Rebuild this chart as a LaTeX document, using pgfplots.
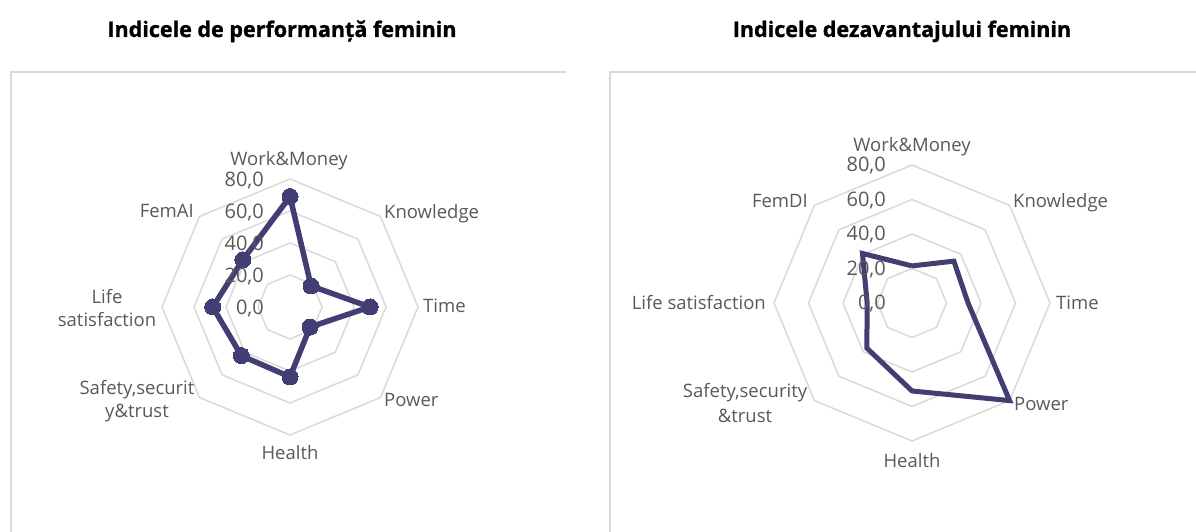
\documentclass[border=0pt]{standalone}
\usepackage{fontspec}
\setmainfont{Open Sans}
\newfontfamily\titlefont[BoldFeatures={FakeBold=1.2}]{Open Sans}
\usepackage{pgfplots}
\pgfplotsset{compat=1.18}
\definecolor{navy}{RGB}{64,62,114}
\definecolor{ringgray}{RGB}{217,217,217}
\definecolor{labgray}{RGB}{89,89,89}
\definecolor{framegray}{RGB}{217,217,217}
\newcommand{\catfont}{\fontsize{18.5}{22}\selectfont}
\newcommand{\tickfont}{\fontsize{20}{24}\selectfont}
\newcommand{\ttlfont}{\titlefont\bfseries\fontsize{21.5}{26}\selectfont}
\begin{document}
\begin{tikzpicture}
\path[use as bounding box] (0pt,0pt) rectangle (1196pt,532pt);

% ---------- left radar ----------
\begin{axis}[at={(290pt,225pt)}, anchor=center, hide axis, scale only axis,
  width=256pt, height=256pt, xmin=-80, xmax=80, ymin=-80, ymax=80, clip=false]
\foreach \r in {20,40,60,80}{
  \edef\tmp{\noexpand\addplot[ringgray, line width=1.5pt, data cs=polar, line join=miter] coordinates {(90,\r) (45,\r) (0,\r) (-45,\r) (-90,\r) (-135,\r) (180,\r) (135,\r) (90,\r)};}
  \tmp
}
\addplot[navy, line width=5.5pt, line join=round, data cs=polar, mark=*, mark size=8pt, mark options={fill=navy, draw=navy, line width=0pt}]
  coordinates {(90,69) (45,18.6) (0,50) (-45,17.7) (-90,43.7) (-135,43) (180,48.3) (135,41.7) (90,69)};
\end{axis}

% ---------- right radar ----------
\begin{axis}[at={(912pt,229pt)}, anchor=center, hide axis, scale only axis,
  width=276pt, height=276pt, xmin=-80, xmax=80, ymin=-80, ymax=80, clip=false]
\foreach \r in {20,40,60,80}{
  \edef\tmp{\noexpand\addplot[ringgray, line width=1.5pt, data cs=polar, line join=miter] coordinates {(90,\r) (45,\r) (0,\r) (-45,\r) (-90,\r) (-135,\r) (180,\r) (135,\r) (90,\r)};}
  \tmp
}
\addplot[navy, line width=5pt, line join=miter, data cs=polar, mark=none]
  coordinates {(90,21.5) (45,34.3) (0,32.5) (-45,80) (-90,51) (-135,37) (180,26) (135,40.6) (90,21.5)};
\end{axis}

\begin{scope}[x=1pt,y=1pt]
% frames
\draw[framegray, line width=2pt] (10.5,0) -- (10.5,459.5) -- (565.5,459.5);
\draw[framegray, line width=2pt] (610,0) -- (610,459.5) -- (1196,459.5);
% titles
\node[anchor=base, text=black] at (282,495) {\ttlfont Indicele de performanță feminin};
\node[anchor=base, text=black] at (902,495) {\ttlfont Indicele dezavantajului feminin};

% tick labels left
\foreach \yy/\t in {180/80,212/60,244/40,276/20,307.5/0}{
  \node[anchor=base east, text=labgray, inner sep=0pt] at (264,{532-\yy-7}) {\tickfont \t,0};
}
% tick labels right
\foreach \yy/\t in {165/80,199.5/60,234/40,268.5/20,303/0}{
  \node[anchor=base east, text=labgray, inner sep=0pt] at (886,{532-\yy-7}) {\tickfont \t,0};
}

% category labels
\begin{scope}[every node/.style={text=labgray, inner sep=0pt, font=\catfont}]
\node[anchor=base] at (289,{532-166}) {Work\&Money};
\node[anchor=base west] at (384,{532-219}) {Knowledge};
\node[anchor=base west] at (423,{532-313}) {Time};
\node[anchor=base west] at (384,{532-407}) {Power};
\node[anchor=base] at (290,{532-460}) {Health};
\node[anchor=base] at (137,{532-395}) {Safety,securit};
\node[anchor=base] at (137,{532-418}) {y\&trust};
\node[anchor=base] at (107,{532-304}) {Life};
\node[anchor=base] at (107,{532-327}) {satisfaction};
\node[anchor=base east] at (194,{532-218}) {FemAI};
% right
\node[anchor=base] at (912,{532-151.5}) {Work\&Money};
\node[anchor=base west] at (1013,{532-208}) {Knowledge};
\node[anchor=base west] at (1056,{532-310}) {Time};
\node[anchor=base west] at (1014,{532-411}) {Power};
\node[anchor=base] at (912,{532-468}) {Health};
\node[anchor=base] at (745,{532-398}) {Safety,security};
\node[anchor=base] at (745,{532-423}) {\&trust};
\node[anchor=base east] at (766,{532-310}) {Life satisfaction};
\node[anchor=base east] at (808,{532-208}) {FemDI};
\end{scope}
\end{scope}
\end{tikzpicture}
\end{document}
